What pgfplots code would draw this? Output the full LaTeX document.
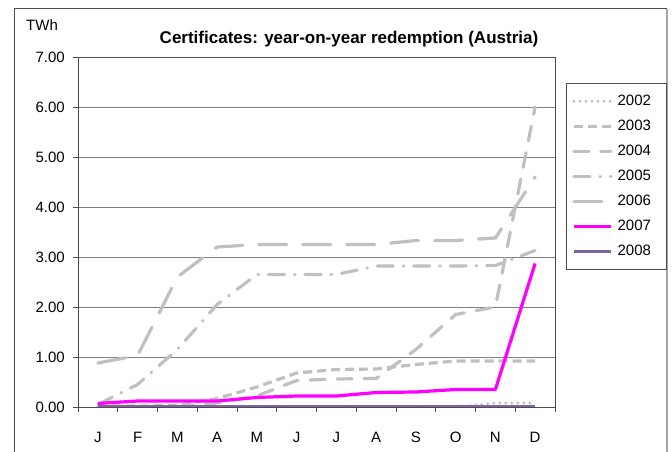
\documentclass[border=0pt]{standalone}
\usepackage{pgfplots}
\pgfplotsset{compat=1.18}
\usepackage{fontspec}
\setmainfont{Liberation Sans}
\definecolor{silverln}{RGB}{192,192,192}
\definecolor{mag}{RGB}{255,0,255}
\definecolor{purp}{RGB}{128,100,162}
\begin{document}
\fontsize{15}{18}\selectfont
\begin{tikzpicture}[x=1pt,y=1pt]
\useasboundingbox (-78,-45) rectangle (594,407);
\fill[white] (-78,-45) rectangle (594,407);
\draw[black!70, line width=1pt] (-63.5,-60) -- (-63.5,398) -- (589,398);
\draw[black!35, line width=2pt] (589,398) -- (589,-60);
\begin{axis}[
    at={(0,0)}, anchor=south west,
    scale only axis, width=477pt, height=350pt,
    xmin=0.5, xmax=12.5, ymin=0, ymax=7,
    xtick={1,...,12},
    xticklabels={J,F,M,A,M,J,J,A,S,O,N,D},
    minor xtick={0.5,1.5,...,12.5},
    ytick={0,...,7},
    minor ytick={0,...,7},
    major tick length=0pt, minor tick length=5pt,
    tick align=outside,
    xtick pos=bottom, ytick pos=left,
    yticklabel={\pgfmathprintnumber[fixed,fixed zerofill,precision=2]{\tick}},
    /pgf/number format/assume math mode=true,
    yticklabel style={xshift=-8pt},
    xticklabel style={yshift=-20pt},
    ymajorgrids,
    grid style={black!50, line width=0.9pt},
    axis line style={black!70, line width=0.9pt},
    every tick/.style={black!70, line width=0.9pt},
    legend style={at={(1.023,0.926)}, anchor=north west,
        draw=black!70, line width=0.8pt, inner xsep=6pt, inner ysep=11pt,
        row sep=11pt, column sep=5pt,
        nodes={inner sep=0pt, text height=11pt, text depth=3pt, text width=43pt, align=left}},
    legend cell align=left,
    legend image code/.code={\draw[#1] (0pt,0pt) -- (37pt,0pt);},
    every axis plot/.append style={line width=3.2pt, line join=round},
]
\addplot[silverln, line cap=round, dash pattern=on 0pt off 6pt] coordinates {
(1,0) (2,0) (3,0) (4,0) (5,0) (6,0) (7,0) (8,0) (9,0) (10,0) (11,0.08) (12,0.08)};
\addlegendentry{2002}
\addplot[silverln, dash pattern=on 9pt off 5pt] coordinates {
(1,0.02) (2,0.02) (3,0.03) (4,0.17) (5,0.4) (6,0.68) (7,0.75) (8,0.76) (9,0.85) (10,0.92) (11,0.92) (12,0.92)};
\addlegendentry{2003}
\addplot[silverln, line cap=round, dash pattern=on 15pt off 12pt] coordinates {
(1,0) (2,0) (3,0) (4,0.08) (5,0.22) (6,0.53) (7,0.56) (8,0.57) (9,1.15) (10,1.85) (11,2.0) (12,6.0)};
\addlegendentry{2004}
\addplot[silverln, line cap=round, dash pattern=on 16pt off 10pt on 0.5pt off 10pt] coordinates {
(1,0.05) (2,0.45) (3,1.15) (4,2.05) (5,2.65) (6,2.65) (7,2.65) (8,2.82) (9,2.82) (10,2.82) (11,2.83) (12,3.13)};
\addlegendentry{2005}
\addplot[silverln, line cap=round, dash pattern=on 28pt off 16pt] coordinates {
(1,0.88) (2,1.03) (3,2.6) (4,3.2) (5,3.25) (6,3.25) (7,3.25) (8,3.25) (9,3.33) (10,3.33) (11,3.38) (12,4.6)};
\addlegendentry{2006}
\addplot[mag] coordinates {
(1,0.07) (2,0.12) (3,0.12) (4,0.12) (5,0.19) (6,0.22) (7,0.22) (8,0.29) (9,0.3) (10,0.35) (11,0.35) (12,2.87)};
\addlegendentry{2007}
\addplot[purp] coordinates {
(1,0) (2,0) (3,0) (4,0) (5,0) (6,0) (7,0) (8,0) (9,0) (10,0) (11,0) (12,0)};
\addlegendentry{2008}
\end{axis}
\node[font=\fontsize{17}{20}\selectfont\bfseries] at (271,368) {Certificates: year-on-year redemption (Austria)};
\node[anchor=west, inner sep=0pt] at (-52,382) {TWh};
\end{tikzpicture}
\end{document}
